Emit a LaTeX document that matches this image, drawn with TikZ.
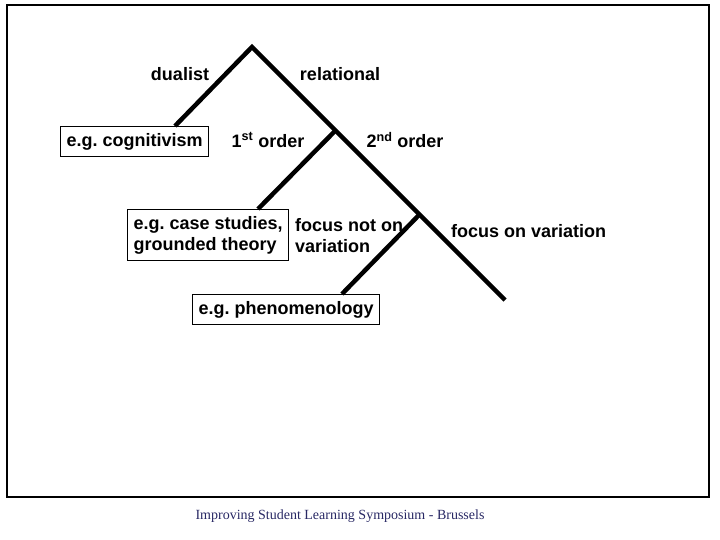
\documentclass[tikz,border=0pt]{standalone}
\usepackage{fontspec}
\setmainfont{Liberation Sans}
\newfontfamily\footfont{Liberation Serif}
\definecolor{footblue}{RGB}{40,40,100}
\begin{document}
\begin{tikzpicture}[x=1pt,y=-1pt,
  lbl/.style={font=\fontsize{18}{21}\selectfont\bfseries, inner sep=0pt},
  boxed/.style={lbl, draw, line width=1.2pt, inner xsep=6pt, inner ysep=6.5pt},
  branch/.style={line width=4.5pt, line cap=butt}]
\useasboundingbox (0,0) rectangle (720,540);
\draw[line width=1.5pt] (7,5) rectangle (709,497);
% tree points
\coordinate (apex) at (252,47);
\coordinate (j1) at (335,131);
\coordinate (j2) at (419,215);
\coordinate (endr) at (505,300);
\node[boxed, anchor=north west] (cog) at (60,126) {e.g.\ cognitivism};
\node[boxed, anchor=north west, align=left] (case) at (127,209) {e.g.\ case studies,\\grounded theory};
\node[boxed, anchor=north west] (phen) at (192,294) {e.g.\ phenomenology};
\coordinate (cogtop) at (175,126);
\coordinate (casetop) at (258,209);
\coordinate (phentop) at (342,294);
\draw[branch] (cogtop) -- (apex) -- (endr);
\draw[branch] (j1) -- (casetop);
\draw[branch] (j2) -- (phentop);
% labels
\node[lbl] (dual) at (180,74) {dualist};
\node[lbl] (rel) at (340,74) {relational};
\node[lbl] (first) at (268,140) {1\textsuperscript{st} order};
\node[lbl] (second) at (405,140) {2\textsuperscript{nd} order};
\node[lbl, anchor=west, align=left] (fnot) at (295,236) {focus not on\\variation};
\node[lbl, anchor=west] (fon) at (451,231) {focus on variation};
\node[font=\footfont\fontsize{14}{16}\selectfont, text=footblue, inner sep=0pt] (foot) at (340,516) {Improving Student Learning Symposium - Brussels};
\end{tikzpicture}
\end{document}
